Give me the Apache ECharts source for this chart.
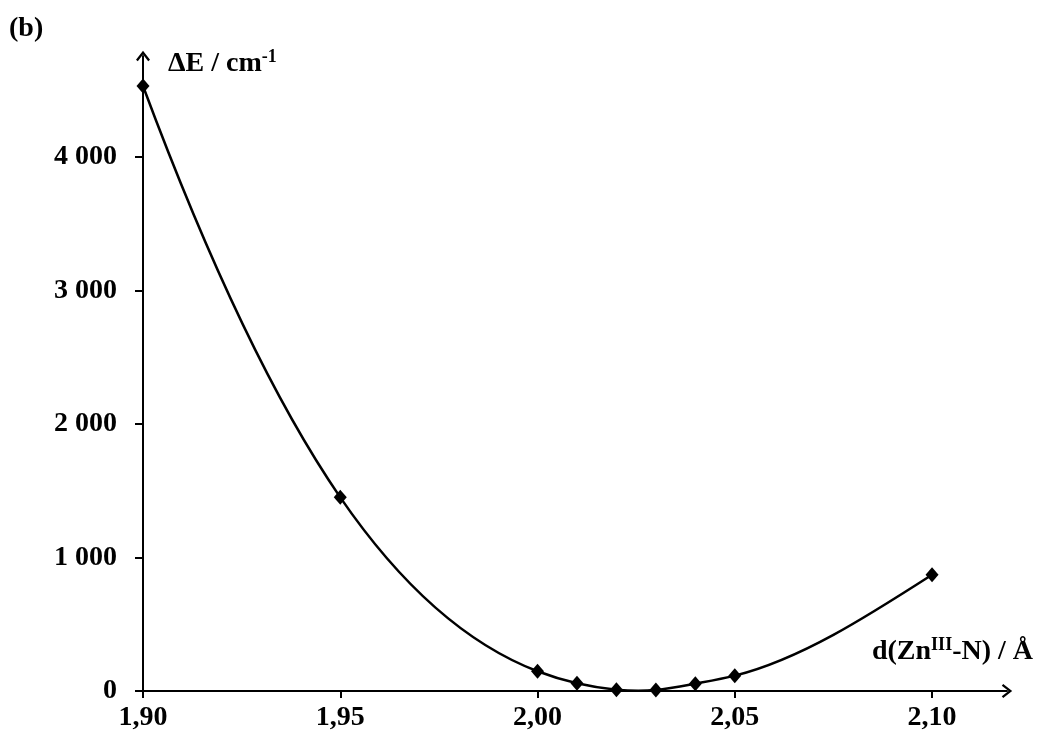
<!DOCTYPE html>
<html>
<head>
<meta charset="utf-8">
<script src="https://cdn.jsdelivr.net/npm/echarts@6/dist/echarts.min.js"></script>
<style>
  html, body { margin: 0; padding: 0; background: #fff; }
  #chart { width: 1040px; height: 741px; }
</style>
</head>
<body>
<div id="chart"></div>
<script>
const bondLengths = [1.90, 1.95, 2.00, 2.01, 2.02, 2.03, 2.04, 2.05, 2.10];
const deltaE = [4530, 1450, 148, 58, 10, 8, 55, 115, 871];
const xTickValues = [1.90, 1.95, 2.00, 2.05, 2.10];
const yTickValues = [0, 1000, 2000, 3000, 4000];

const FONT = '"Liberation Serif", "Times New Roman", serif';
const arrowPath = 'path://M0,9 L7,0 L14,9 L12.2,10.4 L7,3.6 L1.8,10.4 Z';

// Tangents of a cubic spline through the data: left end clamped to the slope of the
// parabola through the first three points, right end natural.
function splineSlopes(xs, ys) {
  const n = xs.length;
  const h = [];
  for (let i = 0; i < n - 1; i++) h.push(xs[i + 1] - xs[i]);
  const a = new Array(n).fill(0), b = new Array(n).fill(1), c = new Array(n).fill(0), d = new Array(n).fill(0);
  // left end: parabola slope
  const x0 = xs[0], x1 = xs[1], x2 = xs[2];
  const s0 = ys[0] * ((x0 - x1) + (x0 - x2)) / ((x0 - x1) * (x0 - x2))
           + ys[1] * (x0 - x2) / ((x1 - x0) * (x1 - x2))
           + ys[2] * (x0 - x1) / ((x2 - x0) * (x2 - x1));
  b[0] = 2 * h[0]; c[0] = h[0];
  d[0] = 6 * ((ys[1] - ys[0]) / h[0] - s0);
  for (let i = 1; i < n - 1; i++) {
    a[i] = h[i - 1];
    b[i] = 2 * (h[i - 1] + h[i]);
    c[i] = h[i];
    d[i] = 6 * ((ys[i + 1] - ys[i]) / h[i] - (ys[i] - ys[i - 1]) / h[i - 1]);
  }
  // right end natural: M[n-1] = 0 (a=0, b=1, d=0)
  const cp = new Array(n).fill(0), dp = new Array(n).fill(0);
  cp[0] = c[0] / b[0]; dp[0] = d[0] / b[0];
  for (let i = 1; i < n; i++) {
    const m = b[i] - a[i] * cp[i - 1];
    cp[i] = c[i] / m;
    dp[i] = (d[i] - a[i] * dp[i - 1]) / m;
  }
  const M = new Array(n).fill(0);
  M[n - 1] = dp[n - 1];
  for (let i = n - 2; i >= 0; i--) M[i] = dp[i] - cp[i] * M[i + 1];
  const s = [];
  for (let i = 0; i < n - 1; i++) {
    s.push((ys[i + 1] - ys[i]) / h[i] - h[i] * (2 * M[i] + M[i + 1]) / 6);
  }
  s.push((ys[n - 1] - ys[n - 2]) / h[n - 2] + h[n - 2] * (M[n - 2] + 2 * M[n - 1]) / 6);
  return s;
}
const slopes = splineSlopes(bondLengths, deltaE);

const chart = echarts.init(document.getElementById('chart'), null, { renderer: 'canvas' });

const axisLineCommon = {
  show: true,
  onZero: false,
  lineStyle: { color: '#000', width: 2 },
  symbol: ['none', arrowPath],
  symbolSize: [14, 10.4],
  symbolOffset: [0, 0]
};

chart.setOption({
  animation: false,
  backgroundColor: '#ffffff',
  grid: { left: 143, right: 33, top: 56, bottom: 50, containLabel: false },
  xAxis: {
    type: 'value',
    min: 1.9,
    max: 2.119,
    interval: 0.05,
    splitLine: { show: false },
    axisLine: axisLineCommon,
    axisTick: { show: true, inside: false, length: 7, lineStyle: { color: '#000', width: 2 }, customValues: xTickValues },
    axisLabel: {
      show: true,
      margin: 13,
      color: '#000',
      fontFamily: FONT,
      fontWeight: 'bold',
      fontSize: 28,
      customValues: xTickValues,
      formatter: function (v) { return v.toFixed(2).replace('.', ','); }
    }
  },
  yAxis: {
    type: 'value',
    min: 0,
    max: 4755,
    interval: 1000,
    splitLine: { show: false },
    axisLine: axisLineCommon,
    axisTick: { show: true, inside: false, length: 8, lineStyle: { color: '#000', width: 2 }, customValues: yTickValues },
    axisLabel: {
      show: true,
      margin: 26,
      color: '#000',
      fontFamily: FONT,
      fontWeight: 'bold',
      fontSize: 28,
      customValues: yTickValues,
      formatter: function (v) { return v === 0 ? '0' : (v / 1000) + ' 000'; }
    }
  },
  graphic: [
    {
      type: 'text', left: 9, top: 15,
      style: { text: '(b)', fill: '#000', font: 'bold 28px ' + FONT }
    },
    {
      type: 'text', left: 168, top: 48,
      style: {
        text: '{m|ΔE / cm}{s|-1}',
        rich: {
          m: { fontFamily: FONT, fontWeight: 'bold', fontSize: 28, lineHeight: 30, fill: '#000', verticalAlign: 'bottom' },
          s: { fontFamily: FONT, fontWeight: 'bold', fontSize: 18, lineHeight: 30, fill: '#000', verticalAlign: 'top' }
        }
      }
    },
    {
      type: 'text', right: 7, top: 636,
      style: {
        text: '{m|d(Zn}{s|III}{m|-N) / Å}',
        rich: {
          m: { fontFamily: FONT, fontWeight: 'bold', fontSize: 28, lineHeight: 30, fill: '#000', verticalAlign: 'bottom' },
          s: { fontFamily: FONT, fontWeight: 'bold', fontSize: 18, lineHeight: 30, fill: '#000', verticalAlign: 'top' }
        }
      }
    }
  ],
  series: [
    {
      type: 'custom',
      data: bondLengths.map(function (x, i) { return [x, deltaE[i]]; }),
      encode: { x: 0, y: 1 },
      clip: false,
      z: 2,
      renderItem: function (params, api) {
        const i = params.dataIndex;
        if (i >= bondLengths.length - 1) return null;
        const x0 = bondLengths[i], x1 = bondLengths[i + 1];
        const y0 = deltaE[i], y1 = deltaE[i + 1];
        const h = x1 - x0;
        const p0 = api.coord([x0, y0]);
        const p1 = api.coord([x1, y1]);
        const c0 = api.coord([x0 + h / 3, y0 + slopes[i] * h / 3]);
        const c1 = api.coord([x1 - h / 3, y1 - slopes[i + 1] * h / 3]);
        return {
          type: 'bezierCurve',
          shape: { x1: p0[0], y1: p0[1], cpx1: c0[0], cpy1: c0[1], cpx2: c1[0], cpy2: c1[1], x2: p1[0], y2: p1[1] },
          style: { stroke: '#000', lineWidth: 2.5, fill: null }
        };
      }
    },
    {
      type: 'scatter',
      data: bondLengths.map(function (x, i) { return [x, deltaE[i]]; }),
      symbol: 'diamond',
      symbolSize: [13, 15],
      itemStyle: { color: '#000', opacity: 1 },
      clip: false,
      z: 3
    }
  ]
});
</script>
</body>
</html>
